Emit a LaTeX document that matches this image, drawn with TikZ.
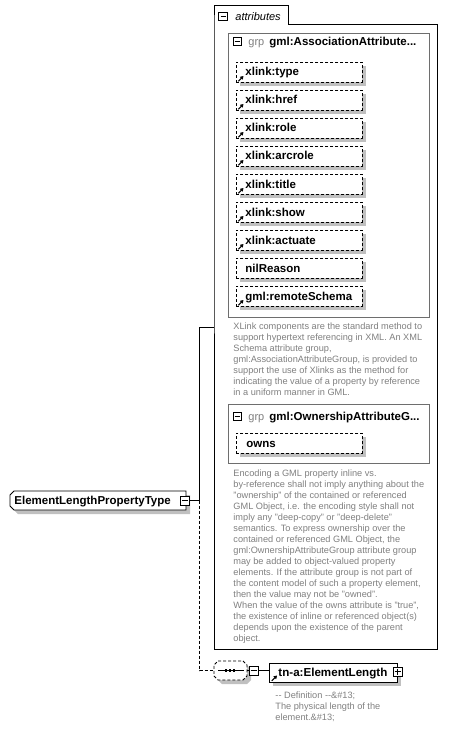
\documentclass[tikz,border=0pt]{standalone}
\usepackage{fontspec}
\setmainfont{Liberation Sans}
\usetikzlibrary{arrows.meta}
\definecolor{descgray}{RGB}{128,128,128}
\definecolor{shadowgray}{RGB}{192,192,192}
\definecolor{grpline}{RGB}{110,110,110}
\begin{document}
\begin{tikzpicture}[x=1pt,y=-1pt,
  line width=0.9pt,
  lbl/.style={font=\fontsize{11.5}{13}\selectfont\bfseries, inner sep=0, anchor=base west},
  grptxt/.style={font=\fontsize{11}{13}\selectfont, text=descgray, inner sep=0, anchor=base west},
  desc/.style={font=\fontsize{9.2}{11}\selectfont, text=descgray, inner sep=0, anchor=base west},
  attrbox/.style={draw, dash pattern=on 3pt off 2pt, fill=white, minimum width=126pt, minimum height=20pt, inner sep=0, anchor=north west},
  shade/.style={fill=shadowgray, draw=none},
  pm/.style={draw, fill=white, minimum size=9pt, inner sep=0, line width=0.8pt},
  refarrow/.style={-{Triangle[length=3.2pt,width=3.8pt]}, line width=1.1pt},
  grpbox/.style={draw=grpline, line width=0.9pt},
  dashedline/.style={dash pattern=on 3pt off 2pt},
]
\useasboundingbox (0,0) rectangle (448,738);

% ---- attributes container ----
\draw[fill=white] (214,24) -- (214,5) -- (288,5) -- (288,24) -- (437,24) -- (437,649) -- (214,649) -- cycle;
\node[pm, minimum size=8.5pt] (attminus) at (223,16.5) {};
\draw[line width=0.8pt] (220.5,16.5) -- (225.5,16.5);
\node[font=\fontsize{11}{13}\selectfont\itshape, inner sep=0, anchor=base west] (atttitle) at (235,20.5) {attributes};
\coordinate (attin) at (214,327);

% ---- association attribute group ----
\draw[grpbox] (228,33) rectangle (429,317);
\node[pm, minimum size=8pt] (g1minus) at (237,41.5) {};
\draw[line width=0.8pt] (234.5,41.5) -- (239.5,41.5);
\node[grptxt] (g1grp) at (248,45.5) {grp};
\node[lbl] (g1name) at (269,45.5) {gml:AssociationAttribute...};

\foreach \lab/\arr [count=\i from 0] in {xlink:type/1, xlink:href/1, xlink:role/1, xlink:arcrole/1, xlink:title/1, xlink:show/1, xlink:actuate/1, nilReason/0, gml:remoteSchema/1}{
  \pgfmathsetmacro\ty{62+28*\i}
  \fill[shade] (240,\ty+4) rectangle (366,\ty+24);
  \node[attrbox] (att\i) at (236,\ty) {};
  \node[lbl] (attl\i) at (245,\ty+14) {\lab};
  \ifnum\arr=1 \draw[refarrow] (238.3,\ty+19.3) -- (243.5,\ty+14); \fi
}

\foreach \t [count=\i from 0] in {
  XLink components are the standard method to,
  support hypertext referencing in XML. An XML,
  {Schema attribute group,},
  {gml:AssociationAttributeGroup, is provided to},
  support the use of Xlinks as the method for,
  indicating the value of a property by reference,
  in a uniform manner in GML.}{
  \node[desc] (xl\i) at (233,329+11*\i) {\t};
}

% ---- ownership attribute group ----
\draw[grpbox] (228,404) rectangle (429,463);
\node[pm, minimum size=8pt] (g2minus) at (237,416) {};
\draw[line width=0.8pt] (234.5,416) -- (239.5,416);
\node[grptxt] (g2grp) at (248,420) {grp};
\node[lbl] (g2name) at (269,420) {gml:OwnershipAttributeG...};
\fill[shade] (240,437) rectangle (366,457);
\node[attrbox] (owns) at (236,433) {};
\node[lbl] (ownsl) at (246,447) {owns};

\foreach \t [count=\i from 0] in {
  Encoding a GML property inline vs.,
  by-reference shall not imply anything about the,
  "ownership" of the contained or referenced,
  {GML Object, i.e. the encoding style shall not},
  imply any "deep-copy" or "deep-delete",
  semantics. To express ownership over the,
  {contained or referenced GML Object, the},
  gml:OwnershipAttributeGroup attribute group,
  may be added to object-valued property,
  elements. If the attribute group is not part of,
  {the content model of such a property element,},
  then the value may not be "owned".,
  {When the value of the owns attribute is "true",},
  the existence of inline or referenced object(s),
  depends upon the existence of the parent,
  object.}{
  \node[desc] (en\i) at (233,476+11*\i) {\t};
}

% ---- root element type ----
\fill[shade] (18,495) -- (190,495) -- (190,514) -- (18,514) -- (14,510) -- (14,499) -- cycle;
\draw[fill=white] (14,491) -- (186,491) -- (186,510) -- (14,510) -- (10,506) -- (10,495) -- cycle;
\node[lbl] (elpt) at (14,504.5) {ElementLengthPropertyType};
\node[pm] (elminus) at (185,500.5) {};
\draw[line width=0.8pt] (182,500.5) -- (188,500.5);
\coordinate (j1) at (199.5,500.5);
\draw (elminus.east) -- (j1) |- (attin);

% ---- sequence compositor ----
\fill[shade] (222,665) -- (247,665) -- (251,669) -- (251,680) -- (247,684) -- (222,684) -- (218,680) -- (218,669) -- cycle;
\draw[dashedline, fill=white] (218,661) -- (243,661) -- (247,665) -- (247,676) -- (243,680) -- (218,680) -- (214,676) -- (214,665) -- cycle;
\coordinate (seqw) at (214,670.5);
\coordinate (seqe) at (247,670.5);
\draw (218,670.5) -- (244,670.5);
\foreach \dx in {226,230,234} \fill (\dx-1.2,669.3) rectangle (\dx+1.2,671.7);
\draw[dashedline] (j1) |- (seqw);
\node[pm] (seqminus) at (253.5,670.5) {};
\draw[line width=0.8pt] (250.5,670.5) -- (256.5,670.5);
\draw (seqe) -- (seqminus.west);

% ---- child element ----
\fill[shade] (273,667) rectangle (401,686);
\node[draw, fill=white, minimum width=128pt, minimum height=19pt, inner sep=0, anchor=north west] (tna) at (269,663) {};
\node[lbl, font=\fontsize{11.6}{13}\selectfont\bfseries] (tnal) at (278,676.8) {tn-a:ElementLength};
\draw[refarrow] (271.8,680.8) -- (277,675.5);
\node[pm] (tnaplus) at (397.5,671.5) {};
\draw[line width=0.8pt] (394.5,671.5) -- (400.5,671.5);
\draw[line width=0.8pt] (397.5,668.5) -- (397.5,674.5);
\draw (seqminus.east) -- (seqminus.east -| tna.west);

\foreach \t [count=\i from 0] in {{-}{-} Definition {-}{-}\&\#13;, The physical length of the, element.\&\#13;}{
  \node[desc] (def\i) at (275,698+11*\i) {\t};
}
\end{tikzpicture}
\end{document}
